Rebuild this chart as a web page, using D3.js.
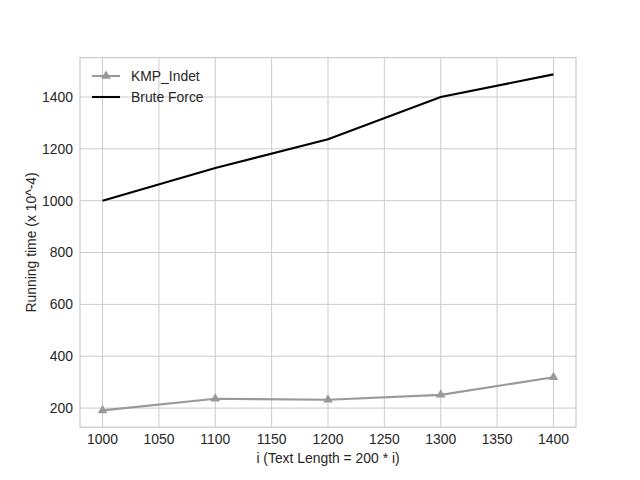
<!DOCTYPE html>
<html><head><meta charset="utf-8">
<script src="https://cdn.jsdelivr.net/npm/d3@7"></script>
<style>body{margin:0;background:#fff}text{font-family:"Liberation Sans",Arial,sans-serif}</style>
</head><body>
<svg id="c" width="640" height="480"></svg>
<script>
const xValues = [1000, 1100, 1200, 1300, 1400];
const kmpIndet = [191, 236, 232, 251, 319];
const bruteForce = [1000, 1126, 1237, 1400, 1487];
const xTicks = [1000, 1050, 1100, 1150, 1200, 1250, 1300, 1350, 1400];
const yTicks = [200, 400, 600, 800, 1000, 1200, 1400];
const seriesNames = ["KMP_Indet", "Brute Force"];

const svg = d3.select("#c");
const L = 80, R = 576, T = 57.6, B = 427.2;
const x = d3.scaleLinear().domain([980, 1420]).range([L, R]);
const yMin = d3.min(kmpIndet), yMax = d3.max(bruteForce), pad = (yMax - yMin) * 0.05;
const y = d3.scaleLinear().domain([yMin - pad, yMax + pad]).range([B, T]);

// grid
const g = svg.append("g");
g.selectAll("line.vx").data(xTicks).enter().append("line")
  .attr("x1", d => x(d)).attr("x2", d => x(d)).attr("y1", T).attr("y2", B)
  .attr("stroke", "#cccccc").attr("stroke-width", 1);
g.selectAll("line.hy").data(yTicks).enter().append("line")
  .attr("y1", d => y(d)).attr("y2", d => y(d)).attr("x1", L).attr("x2", R)
  .attr("stroke", "#cccccc").attr("stroke-width", 1);
svg.append("rect").attr("x", L).attr("y", T).attr("width", R - L).attr("height", B - T)
  .attr("fill", "none").attr("stroke", "#cccccc").attr("stroke-width", 1.25);

// tick labels
svg.selectAll("text.xt").data(xTicks).enter().append("text")
  .attr("x", d => x(d)).attr("y", B + 17).attr("text-anchor", "middle")
  .attr("font-size", "13.9px").attr("fill", "#262626").text(d => d);
svg.selectAll("text.yt").data(yTicks).enter().append("text")
  .attr("x", L - 7).attr("y", d => y(d)).attr("dy", "0.35em").attr("text-anchor", "end")
  .attr("font-size", "13.9px").attr("fill", "#262626").text(d => d);

svg.append("text").attr("x", (L + R) / 2).attr("y", 463).attr("text-anchor", "middle")
  .attr("font-size", "13.9px").attr("fill", "#262626").text("i (Text Length = 200 * i)");
svg.append("text").attr("transform", `translate(36,${(T + B) / 2}) rotate(-90)`)
  .attr("text-anchor", "middle").attr("font-size", "13.9px").attr("fill", "#262626")
  .text("Running time (x 10^-4)");

const line = d3.line().x((d, i) => x(xValues[i])).y(d => y(d));
svg.append("path").datum(kmpIndet).attr("d", line).attr("fill", "none")
  .attr("stroke", "#999999").attr("stroke-width", 2.1);
svg.append("path").datum(bruteForce).attr("d", line).attr("fill", "none")
  .attr("stroke", "#000000").attr("stroke-width", 2.1);

const tri = d3.symbol().type(d3.symbolTriangle).size(40);
svg.selectAll("path.m").data(kmpIndet).enter().append("path")
  .attr("d", tri).attr("transform", (d, i) => `translate(${x(xValues[i])},${y(d)})`)
  .attr("fill", "#999999");

// legend
const leg = svg.append("g");
const colors = ["#999999", "#000000"];
seriesNames.forEach((n, i) => {
  const yy = 76 + i * 21;
  leg.append("line").attr("x1", 92).attr("x2", 120).attr("y1", yy).attr("y2", yy)
    .attr("stroke", colors[i]).attr("stroke-width", 2.1);
  if (i === 0) leg.append("path").attr("d", tri).attr("transform", `translate(106,${yy})`).attr("fill", colors[i]);
  leg.append("text").attr("x", 131).attr("y", yy).attr("dy", "0.35em")
    .attr("font-size", "13.9px").attr("fill", "#262626").text(n);
});
</script>
</body></html>
